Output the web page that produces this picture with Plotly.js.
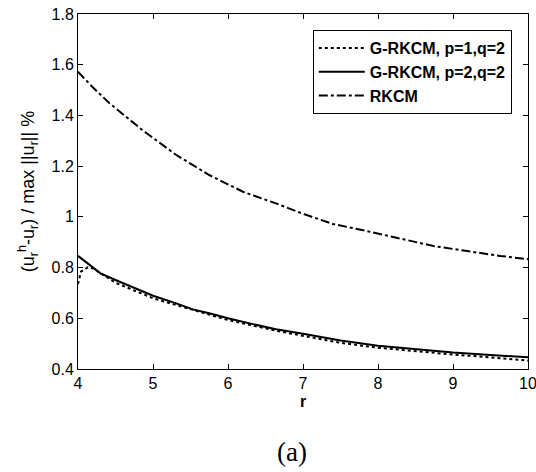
<!DOCTYPE html>
<html>
<head>
<meta charset="utf-8">
<script src="https://cdn.plot.ly/plotly-3.0.1.min.js"></script>
<style>html,body{margin:0;padding:0;background:#fff;}#chart{width:536px;height:472px;}</style>
</head>
<body>
<div id="chart"></div>
<script>
// Series names
const names = ["G-RKCM, p=1,q=2", "G-RKCM, p=2,q=2", "RKCM"];

// G-RKCM p=1,q=2 (dotted)
const r1 = [4.0, 4.04, 4.13, 4.2, 4.5, 5.0, 5.31, 6.0, 6.64, 7.02, 7.5, 8.0, 8.5, 9.0, 9.5, 10.0];
const e1 = [0.735, 0.784, 0.801, 0.797, 0.740, 0.679, 0.652, 0.593, 0.551, 0.530, 0.503, 0.484, 0.470, 0.457, 0.446, 0.433];

// G-RKCM p=2,q=2 (solid)
const r2 = [4.0, 4.15, 4.3, 4.5, 4.86, 5.0, 5.31, 5.53, 5.75, 6.0, 6.33, 6.64, 7.02, 7.5, 8.0, 8.5, 9.0, 9.5, 10.0];
const e2 = [0.846, 0.81, 0.777, 0.751, 0.705, 0.689, 0.659, 0.635, 0.620, 0.600, 0.577, 0.557, 0.538, 0.512, 0.492, 0.478, 0.465, 0.455, 0.446];

// RKCM (dash-dot)
const r3 = [4.0, 4.2, 4.42, 4.86, 5.31, 5.75, 6.2, 6.64, 7.02, 7.4, 7.85, 8.29, 8.74, 9.19, 9.63, 10.0];
const e3 = [1.572, 1.51, 1.448, 1.342, 1.244, 1.165, 1.099, 1.053, 1.010, 0.972, 0.944, 0.915, 0.885, 0.865, 0.846, 0.833];

const xTicks = [4, 5, 6, 7, 8, 9, 10];
const yTicks = [0.4, 0.6, 0.8, 1, 1.2, 1.4, 1.6, 1.8];

const FONT = "'Liberation Sans', Arial, sans-serif";

const traces = [
  {x: r1, y: e1, name: "<b>" + names[0] + "</b>", mode: "lines", line: {color: "#000", width: 2, dash: "dot"}},
  {x: r2, y: e2, name: "<b>" + names[1] + "</b>", mode: "lines", line: {color: "#000", width: 2, dash: "solid"}},
  {x: r3, y: e3, name: "<b>" + names[2] + "</b>", mode: "lines", line: {color: "#000", width: 2, dash: "dashdot"}}
];

const layout = {
  width: 536, height: 472,
  margin: {l: 78, r: 8, t: 14, b: 103},
  paper_bgcolor: "#fff", plot_bgcolor: "#fff",
  font: {family: FONT, color: "#000", size: 15},
  showlegend: true,
  legend: {
    x: 0.964, y: 0.955, xanchor: "right", yanchor: "top",
    bordercolor: "#000", borderwidth: 1, bgcolor: "#fff",
    font: {family: FONT, size: 16, color: "#000"},
    tracegroupgap: 0, itemwidth: 46
  },
  xaxis: {
    range: [4, 10], tickvals: xTicks, ticktext: xTicks.map(String),
    ticks: "inside", ticklen: 5, tickcolor: "#000", tickwidth: 1,
    showline: true, linecolor: "#000", linewidth: 1, mirror: "ticks",
    showgrid: false, zeroline: false, ticklabeloverflow: "allow",
    tickfont: {size: 16},
    title: {text: "<b>r</b>", font: {size: 16}, standoff: 4}
  },
  yaxis: {
    range: [0.4, 1.8], tickvals: yTicks, ticktext: yTicks.map(v => String(v)),
    ticks: "inside", ticklen: 5, tickcolor: "#000", tickwidth: 1,
    showline: true, linecolor: "#000", linewidth: 1, mirror: "ticks",
    showgrid: false, zeroline: false, ticklabeloverflow: "allow",
    tickfont: {size: 16},
    title: {text: "(u<sub>r</sub><sup>h</sup>-u<sub>r</sub>) / max ||u<sub>r</sub>|| %", font: {size: 18}, standoff: 12}
  },
  annotations: [
    {text: "(a)", xref: "paper", yref: "paper", x: 0.476, y: -0.234, xanchor: "center", yanchor: "middle",
     showarrow: false, font: {family: "'Liberation Serif', 'Times New Roman', serif", size: 27, color: "#000"}}
  ]
};

Plotly.newPlot("chart", traces, layout, {displayModeBar: false, staticPlot: true});
</script>
</body>
</html>
